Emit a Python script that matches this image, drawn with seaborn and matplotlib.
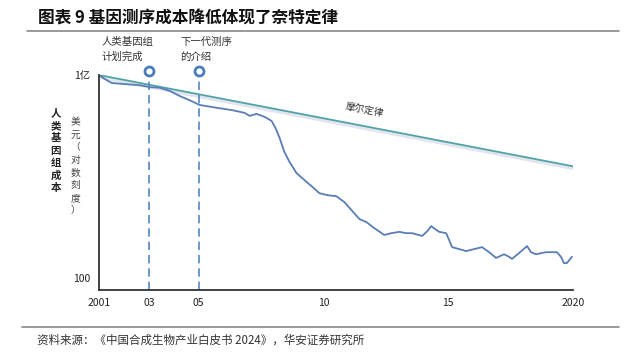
import numpy as np
import pandas as pd
import matplotlib
matplotlib.use("Agg")
import matplotlib.pyplot as plt
import matplotlib.patheffects as pe
import matplotlib.transforms as mtransforms
import seaborn as sns

# 人类基因组测序成本（美元），读自原图
years = [2001.0, 2001.24, 2001.52, 2002.04, 2002.64, 2003.04, 2003.44, 2003.84, 2004.24, 2004.64,
         2005.04, 2005.64, 2006.36, 2006.84, 2007.04, 2007.32, 2007.64, 2007.92, 2008.08, 2008.24,
         2008.44, 2008.64, 2008.92, 2009.24, 2009.52, 2009.84, 2010.16, 2010.52, 2010.84, 2011.12,
         2011.44, 2011.72, 2012.04, 2012.44, 2012.72, 2013.04, 2013.32, 2013.56, 2013.96, 2014.16,
         2014.32, 2014.48, 2014.64, 2014.92, 2015.16, 2015.44, 2015.72, 2016.04, 2016.36, 2016.64,
         2016.92, 2017.24, 2017.44, 2017.56, 2017.84, 2018.16, 2018.32, 2018.52, 2018.92, 2019.36,
         2019.52, 2019.64, 2019.76, 2019.96]
cost = [1.0e8, 7.6e7, 5.8e7, 5.4e7, 5.0e7, 4.4e7, 4.2e7, 3.4e7, 2.4e7, 1.8e7,
        1.3e7, 1.1e7, 9.1e6, 7.6e6, 6.2e6, 7.1e6, 5.8e6, 4.4e6, 2.7e6, 1.4e6,
        5.2e5, 2.7e5, 1.26e5, 7.8e4, 5.2e4, 3.2e4, 2.8e4, 2.6e4, 1.74e4, 1.02e4,
        5.5e3, 4.5e3, 2.95e3, 1.86e3, 2.1e3, 2.3e3, 2.1e3, 2.1e3, 1.74e3, 2.4e3,
        3.4e3, 2.75e3, 2.3e3, 2.1e3, 810, 710, 620, 710, 810, 575,
        390, 500, 420, 365, 540, 870, 575, 500, 575, 575,
        420, 275, 275, 420]

# 摩尔定律参考线
moore_years = [2001, 2020]
moore_cost = [1.0e8, 2.0e5]

# 事件
event_years = [2003, 2005]
event_labels = ["人类基因组\n计划完成", "下一代测序\n的介绍"]
event_text_x = [2001.1, 2004.25]

xtick_pos = [2001, 2003, 2005, 2010, 2015, 2020]
xtick_lbl = ["2001", "03", "05", "10", "15", "2020"]
ytick_pos = [1e8, 100]
ytick_lbl = ["1亿", "100"]

sns.set_style("white")
plt.rcParams["font.family"] = ["Noto Sans CJK SC", "DejaVu Sans"]

fig = plt.figure(figsize=(6.38, 3.54), dpi=100)
ax = fig.add_axes([0.155, 0.181, 0.743, 0.607])

curve = pd.DataFrame({"year": years, "cost": cost})
moore = pd.DataFrame({"year": moore_years, "cost": moore_cost})

sns.lineplot(data=moore, x="year", y="cost", ax=ax, color="#4fa3a8", linewidth=1.3,
             path_effects=[pe.SimpleLineShadow(offset=(0, -1.5), shadow_color="#8f9ab8", alpha=0.25, linewidth=2.5),
                           pe.Normal()])
sns.lineplot(data=curve, x="year", y="cost", ax=ax, color="#5a7db5", linewidth=1.3)

ax.set_yscale("log")
ax.set_xlim(2001, 2020)
ax.set_ylim(44, 1e8)

trans = mtransforms.blended_transform_factory(ax.transData, ax.transAxes)
marker_y = 1.3e8
for yr, lbl, tx in zip(event_years, event_labels, event_text_x):
    ax.plot([yr, yr], [44, marker_y], color="#5286c4", linestyle=(0, (5, 3)), linewidth=1.2, clip_on=False)
    ax.plot([yr], [marker_y], marker="o", markersize=6.5, markerfacecolor="white",
            markeredgecolor="#4a7dba", markeredgewidth=2.0, clip_on=False, zorder=5)
    ax.text(tx, 1.12, lbl, transform=trans, fontsize=7.5, color="#333333", ha="left", va="center",
            linespacing=1.55)

ax.text(2011.64, 9.6e6, "摩尔定律", fontsize=7, color="#333333", rotation=-11,
        ha="center", va="center", style="italic")

ax.set_xticks(xtick_pos)
ax.set_xticklabels(xtick_lbl, fontsize=7.5, color="#222222")
ax.set_yticks(ytick_pos)
ax.set_yticklabels(ytick_lbl, fontsize=7.5, color="#222222")
ax.minorticks_off()
ax.tick_params(axis="both", length=0, pad=6)
ax.set_xlabel("")
ax.set_ylabel("")
for side in ["top", "right"]:
    ax.spines[side].set_visible(False)
for side in ["left", "bottom"]:
    ax.spines[side].set_color("#333333")
    ax.spines[side].set_linewidth(1.3)

fig.text(0.087, 0.574, "\n".join("人类基因组成本"), fontsize=7.5, fontweight="bold",
         ha="center", va="center", linespacing=1.3, color="#222222")
fig.text(0.118, 0.53, "\n".join("美元（对数刻度）"), fontsize=7, ha="center", va="center",
         linespacing=1.32, color="#444444")

fig.text(0.06, 0.949, "图表 9 基因测序成本降低体现了奈特定律", fontsize=12, fontweight="bold",
         ha="left", va="center", color="#111111")
fig.add_artist(plt.Line2D([0.042, 0.97], [0.912, 0.912], color="#888888", linewidth=1.2))
fig.add_artist(plt.Line2D([0.035, 0.97], [0.076, 0.076], color="#888888", linewidth=1.2))
fig.text(0.058, 0.038, "资料来源：《中国合成生物产业白皮书 2024》，华安证券研究所", fontsize=8.3,
         ha="left", va="center", color="#333333")

fig.savefig("out.png", dpi=100)
